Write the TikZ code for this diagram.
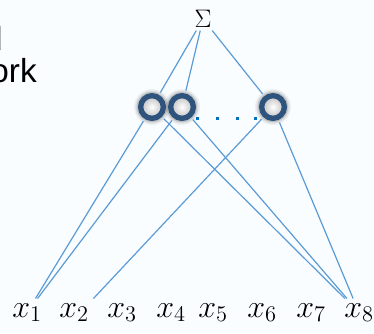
\RequirePackage{fix-cm}
\documentclass[tikz,border=0pt]{standalone}
\usepackage{fontspec}
\newfontfamily\slidefont{Liberation Sans}
\definecolor{edgeblue}{RGB}{91,155,213}
\definecolor{ringblue}{RGB}{46,84,125}
\definecolor{dotblue}{RGB}{0,112,192}
\definecolor{slidebg}{RGB}{250,253,255}
\begin{document}
\begin{tikzpicture}
% positions taken in pixels of the slide
\def\pxsz{0.75pt}
\tikzset{
  unit/.style={circle, draw=ringblue, line width=4pt, minimum size=17pt, inner sep=0pt, inner color=white, outer color=black!25},
  wire/.style={draw=edgeblue, line width=0.9pt},
  inp/.style={anchor=base, font=\fontsize{24}{27}\selectfont},
  cuttext/.style={anchor=base east, inner sep=0pt, font=\slidefont\fontsize{25}{30}\selectfont},
}
\begin{scope}[x=\pxsz, y=-\pxsz]
  \useasboundingbox (0,0) rectangle (374,333);
  % Background
  \fill[slidebg] (0,0) rectangle (374,333);
  % Slide text cut at the left edge
  \node[cuttext] (txta) at (3,50) {d};
  \node[cuttext] (txtb) at (37,82) {ork};
  % Output
  \node[inner sep=2pt, font=\fontsize{19}{22}\selectfont] (sum) at (203,19) {Σ};
  % Glow round the hidden units
  \foreach \px in {152,182,273} {
    \foreach \r/\op in {18/0.05,16.5/0.08,15.2/0.12} {
      \fill[black, opacity=\op] (\px,107) circle (\r);
    }
  }
  % Hidden units
  \foreach \n/\px in {1/152,2/182,3/273} {
    \node[unit] (h\n) at (\px,107) {};
  }
  % Dots between units
  \foreach \px in {197,217,237,255} {
    \fill[dotblue] (\px,118) ++(-1.5,-1.5) rectangle ++(3,3);
  }
  % Inputs
  \foreach \i/\px in {1/27,2/74,3/122,4/171,5/213,6/262,7/311,8/359} {
    \node[inp] (x\i) at (\px,317) {$x_{\i}$};
  }
  % Connections
  \foreach \n in {1,2,3} {
    \draw[wire, shorten >=2pt] (sum) -- (h\n);
  }
  \foreach \n in {1,2} {
    \draw[wire, shorten <=2pt] (h\n) -- (x1);
    \draw[wire, shorten <=2pt] (h\n) -- (x8);
  }
  \draw[wire, shorten <=2pt] (h3) -- (x2.north east);
  \draw[wire, shorten <=2pt] (h3) -- (x8);
\end{scope}
\end{tikzpicture}
\end{document}
